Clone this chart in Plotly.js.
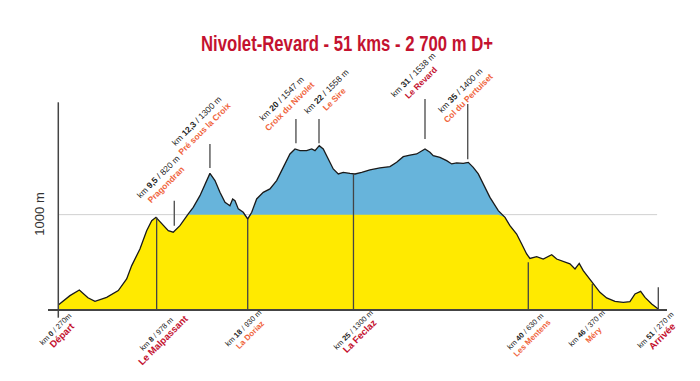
<!DOCTYPE html>
<html>
<head>
<meta charset="utf-8">
<script src="https://cdn.plot.ly/plotly-3.0.1.min.js"></script>
<style>html,body{margin:0;padding:0;background:#fff;}#chart{width:700px;height:381px;}</style>
</head>
<body>
<div id="chart"></div>
<script>
// ---- DATA (x = position on the drawn km scale) ----
const km = [0, 0.99, 1.79, 2.52, 3.12, 4.11, 5.10, 5.81, 6.24, 6.94, 7.51, 7.94, 8.30, 8.92, 9.35, 9.77, 10.34, 11.05, 11.47, 12.04, 12.47, 12.89, 13.32, 13.74, 14.17, 14.59, 14.82, 15.02, 15.30, 15.72, 16.10, 16.44, 16.86, 17.42, 17.99, 18.56, 19.12, 19.69, 20.12, 20.54, 21.11, 21.54, 21.82, 22.18, 22.52, 22.95, 23.37, 23.80, 24.22, 24.79, 25.22, 25.79, 26.49, 27.34, 28.19, 28.76, 29.32, 29.89, 30.46, 31.17, 31.59, 31.87, 32.44, 33.01, 33.44, 33.86, 34.42, 34.85, 35.27, 35.70, 36.12, 36.69, 37.40, 37.97, 38.39, 38.96, 39.39, 39.81, 40.09, 40.66, 41.22, 41.94, 42.36, 42.92, 43.49, 43.92, 44.28, 44.62, 45.05, 45.47, 46.04, 46.61, 47.32, 48.02, 48.59, 49.02, 49.50, 49.87, 50.44, 51.0];
const elevation = [262, 339, 385, 322, 292, 325, 380, 475, 584, 720, 869, 951, 978, 910, 869, 857, 910, 1006, 1060, 1155, 1251, 1337, 1278, 1182, 1100, 1073, 1128, 1114, 1047, 1019, 965, 1019, 1128, 1182, 1210, 1278, 1386, 1495, 1536, 1522, 1522, 1536, 1522, 1563, 1536, 1455, 1373, 1332, 1345, 1337, 1332, 1345, 1365, 1381, 1392, 1427, 1473, 1486, 1495, 1536, 1509, 1482, 1468, 1441, 1414, 1422, 1419, 1427, 1386, 1332, 1251, 1141, 1033, 978, 910, 842, 761, 679, 643, 657, 638, 673, 638, 619, 598, 557, 602, 543, 488, 434, 366, 320, 292, 284, 290, 353, 374, 325, 271, 230];
const threshold = 1000;

// summits (labels above the profile)
const topNames   = ["Pragondran", "Pré sous la Croix", "Croix du Nivolet", "Le Sire", "Le Revard", "Col du Pertuiset"];
const topKm      = ["9,5", "12,3", "20", "22", "31", "35"];
const topAlt     = ["820 m", "1300 m", "1547 m", "1558 m", "1538 m", "1400 m"];
const topPos     = [9.86, 12.89, 20.2, 22.16, 31.17, 34.8];
const topLineLow = [910, 1381, 1582, 1582, 1618, 1453];
const topLineHigh= [1114, 1577, 1781, 1781, 1944, 1904];
const topMajor   = [false, false, false, false, true, false];

// points on the baseline (labels below)
const botNames   = ["Départ", "Le Malpassant", "La Doriaz", "La Feclaz", "Les Mentens", "Méry", "Arrivée"];
const botKm      = ["0", "8", "18", "25", "40", "46", "51"];
const botAlt     = ["270m", "978 m", "930 m", "1300 m", "630 m", "370 m", "270 m"];
const botPos     = [0, 8.36, 16.1, 25.09, 39.95, 45.39, 51.0];
const botLineTop = [null, 978, 965, 1335, 611, 434, 407];
const botMajor   = [true, true, false, true, false, false, true];

// ---- STYLE ----
const YMIN = 230, YMAX = 2001;
const RED = "#c4122f", ORANGE = "#f0643c", BLUE = "#67b4db", YELLOW = "#ffea00", LINEC = "#444";
const topOffsets = [[-12, 20], [-9, 19], [-10.5, 16.5], [11, 23.5], [-7.5, 20], [-3.7, 9]];
const botOffsets = [[0.7, -23], [3.3, -28], [-0.7, -22.5], [3.2, -24.5], [0.7, -25], [-1.8, -22], [0.7, -24]];

const capped = elevation.map(v => Math.min(v, threshold));
const toPaper = v => (v - YMIN) / (YMAX - YMIN);

const traces = [
  {x: km, y: elevation, type: "scatter", mode: "lines", fill: "tozeroy", fillcolor: BLUE, line: {width: 0}, hoverinfo: "skip"},
  {x: km, y: capped, type: "scatter", mode: "lines", fill: "tozeroy", fillcolor: YELLOW, line: {width: 0}, hoverinfo: "skip"},
  {x: km, y: elevation, type: "scatter", mode: "lines", line: {color: "#1a1a1a", width: 1.3}, hoverinfo: "skip"}
];

const shapes = [];
shapes.push({type: "line", layer: "below", xref: "x", yref: "y", x0: 0, x1: 50.9, y0: threshold, y1: threshold, line: {color: "#d0d0d0", width: 1}});
shapes.push({type: "line", xref: "x", yref: "paper", x0: 0, x1: 0, y0: toPaper(159), y1: toPaper(1917), line: {color: LINEC, width: 1.5}});
topPos.forEach((p, i) => shapes.push({type: "line", xref: "x", yref: "y", x0: p, x1: p, y0: topLineLow[i], y1: topLineHigh[i], line: {color: "#555", width: 1.4}}));
botPos.forEach((p, i) => { if (botLineTop[i] !== null) shapes.push({type: "line", xref: "x", yref: "y", x0: p, x1: p, y0: YMIN, y1: botLineTop[i], line: {color: LINEC, width: 1.3}}); });

const annotations = [];
annotations.push({text: "1000 m", xref: "paper", yref: "y", x: (40 - 48) / 619, y: threshold, xanchor: "center", yanchor: "middle", textangle: -90, showarrow: false, font: {family: "Liberation Sans, Arial, sans-serif", size: 13, color: "#333"}});
topPos.forEach((p, i) => {
  const c = topMajor[i] ? RED : ORANGE;
  annotations.push({
    text: `km <b>${topKm[i]}</b> / ${topAlt[i]}<br><span style="color:${c}"><b>${topNames[i]}</b></span>`,
    xref: "x", yref: "y", x: p, y: topLineHigh[i], xanchor: "center", yanchor: "middle",
    xshift: topOffsets[i][0], yshift: topOffsets[i][1], textangle: -45, showarrow: false, align: "center",
    font: {family: "Liberation Sans, Arial, sans-serif", size: 8.5, color: "#222"}
  });
});
botPos.forEach((p, i) => {
  const c = botMajor[i] ? RED : ORANGE;
  annotations.push({
    text: `km <b>${botKm[i]}</b> / ${botAlt[i]}<br><span style="color:${c};font-size:${botMajor[i] ? 9.5 : 8}px"><b>${botNames[i]}</b></span>`,
    xref: "x", yref: "y", x: p, y: YMIN, xanchor: "center", yanchor: "middle",
    xshift: botOffsets[i][0], yshift: botOffsets[i][1], textangle: -45, showarrow: false, align: "center",
    font: {family: "Liberation Sans, Arial, sans-serif", size: 7.5, color: "#222"}
  });
});

const layout = {
  width: 700, height: 381,
  margin: {l: 48, r: 33, t: 92, b: 72, pad: 0},
  paper_bgcolor: "#fff", plot_bgcolor: "rgba(0,0,0,0)",
  showlegend: false,
  title: {text: "<b>Nivolet-Revard - 51 kms - 2 700 m D+</b>", x: 347 / 700, xanchor: "center", y: 1 - 43 / 381, yanchor: "middle",
          font: {family: "Liberation Sans, Arial, sans-serif", size: 22, color: RED}},
  xaxis: {range: [-0.875, 51.74], showgrid: false, zeroline: false, showticklabels: false, ticks: "",
          showline: true, linecolor: LINEC, linewidth: 1.5, fixedrange: true},
  yaxis: {range: [YMIN, YMAX], showgrid: false, zeroline: false, showticklabels: false, ticks: "", showline: false, fixedrange: true},
  shapes: shapes,
  annotations: annotations
};

Plotly.newPlot("chart", traces, layout, {displayModeBar: false, staticPlot: true}).then(() => {
  // condense the title horizontally, like the reference's condensed typeface
  const t = document.querySelector(".gtitle");
  if (t) {
    t.style.transformBox = "fill-box";
    t.style.transformOrigin = "center";
    t.style.transform = "scaleX(0.76)";
  }
});
</script>
</body>
</html>
